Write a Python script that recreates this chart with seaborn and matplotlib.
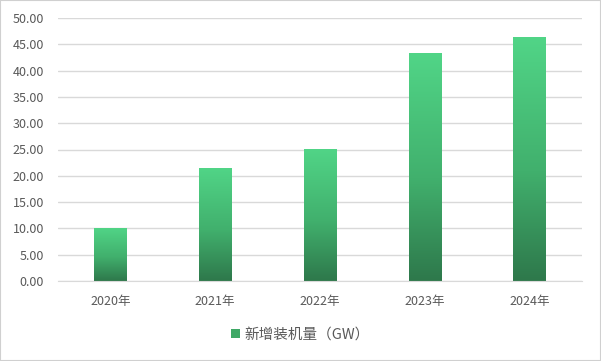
import numpy as np
import pandas as pd
import matplotlib
matplotlib.use("Agg")
import matplotlib.pyplot as plt
import seaborn as sns
from matplotlib.colors import LinearSegmentedColormap
from matplotlib.patches import Patch

years = ["2020年", "2021年", "2022年", "2023年", "2024年"]
values = [10.1, 21.5, 25.1, 43.3, 46.4]
series_name = "新增装机量（GW）"

sns.set_style("white")
plt.rcParams['font.family'] = ['Noto Sans CJK SC', 'DejaVu Sans']

df = pd.DataFrame({"year": years, "value": values})

fig = plt.figure(figsize=(6.01, 3.61), dpi=100)
ax = fig.add_axes([58/601, 1 - 281/361, 524/601, 263/361])

sns.barplot(data=df, x="year", y="value", ax=ax, color="#46c47a", width=0.31,
            saturation=1, edgecolor="none")

cmap = LinearSegmentedColormap.from_list(
    "g", [(0.0, "#2e784b"), (0.45, "#41b06d"), (1.0, "#51d587")])
grad = np.linspace(0, 1, 256).reshape(-1, 1)
for p in ax.patches:
    x0, y0 = p.get_x(), p.get_y()
    w, h = p.get_width(), p.get_height()
    im = ax.imshow(grad, cmap=cmap, aspect="auto", origin="lower",
                   extent=[x0, x0 + w, y0, y0 + h], zorder=p.get_zorder() + 0.1)
    im.set_clip_path(p)

ax.set_xlim(-0.5, 4.5)
ax.set_ylim(0, 50)
ax.set_yticks(np.arange(0, 50.01, 5))
ax.set_yticklabels([f"{v:.2f}" for v in np.arange(0, 50.01, 5)])
ax.yaxis.grid(True, color="#d9d9d9", linewidth=1)
ax.set_axisbelow(True)
for s in ["top", "right", "left"]:
    ax.spines[s].set_visible(False)
ax.spines["bottom"].set_color("#d9d9d9")
ax.set_xlabel("")
ax.set_ylabel("")
ax.tick_params(axis="both", length=0, labelsize=9, colors="#595959")
ax.tick_params(axis="y", pad=10)
ax.tick_params(axis="x", pad=10)

handles = [Patch(facecolor="#3fa866", edgecolor="none", label=series_name)]
fig.legend(handles=handles, loc="center", bbox_to_anchor=(0.5, 1 - 335/361),
           frameon=False, fontsize=10.5, labelcolor="#595959",
           handlelength=0.6, handleheight=0.6, handletextpad=0.3)

fig.patches.append(plt.Rectangle((0, 0), 1, 1, transform=fig.transFigure,
                                 fill=False, edgecolor="#d0d0d0", linewidth=1.5))

fig.savefig("out.png", dpi=100)
